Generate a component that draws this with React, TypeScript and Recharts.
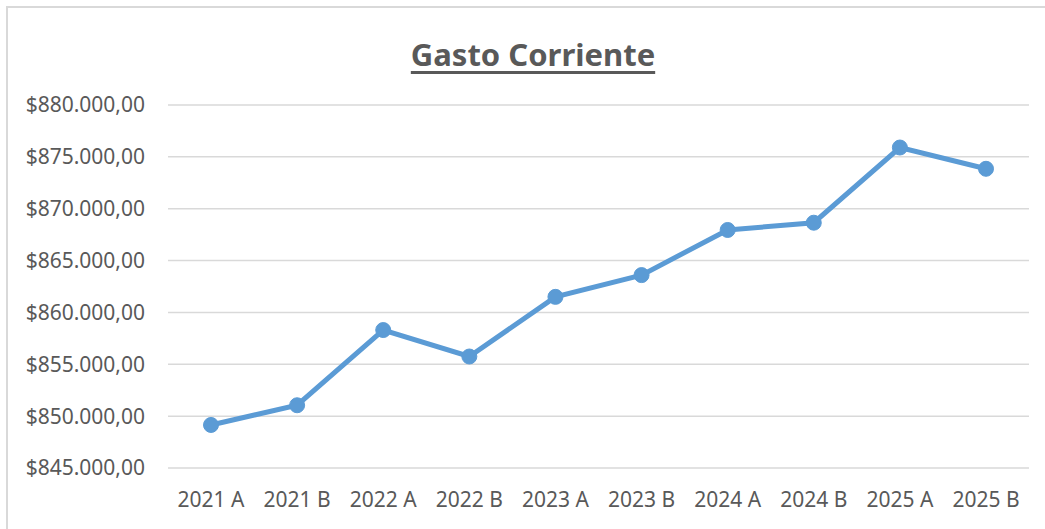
import { CartesianGrid, Line, LineChart, XAxis, YAxis } from 'recharts';

const periods = ['2021 A', '2021 B', '2022 A', '2022 B', '2023 A', '2023 B', '2024 A', '2024 B', '2025 A', '2025 B'];
const gastoCorriente = [849150, 851050, 858300, 855750, 861500, 863600, 867950, 868650, 875900, 873850];
const yTicks = [845000, 850000, 855000, 860000, 865000, 870000, 875000, 880000];

const data = periods.map((period, i) => ({ period, value: gastoCorriente[i] }));

function formatMoney(value: number) {
  const whole = Math.round(value)
    .toString()
    .replace(/\B(?=(\d{3})+(?!\d))/g, '.');
  return `$${whole},00`;
}

const font = '"Noto Sans", sans-serif';

export default function App() {
  return (
    <div style={{ position: 'absolute', left: 0, top: 0, width: 1045, height: 529, background: '#fff', fontFamily: font }}>
      <div
        style={{
          position: 'absolute',
          left: 6,
          top: 6,
          right: 0,
          bottom: 0,
          borderLeft: '2px solid #d9d9d9',
          borderTop: '2px solid #d9d9d9',
        }}
      />
      <div
        style={{
          position: 'absolute',
          left: 0,
          width: 1066,
          top: 33,
          textAlign: 'center',
          fontSize: 31,
          fontWeight: 700,
          color: '#595959',
          textDecoration: 'underline',
          textDecorationThickness: 3,
          textUnderlineOffset: 5,
        }}
      >
        Gasto Corriente
      </div>
      <div style={{ position: 'absolute', left: 0, top: 0 }}>
        <LineChart width={1045} height={529} data={data} margin={{ top: 105, right: 16, bottom: 31, left: 0 }}>
          <CartesianGrid vertical={false} stroke="#d9d9d9" strokeWidth={1.5} />
          <XAxis
            dataKey="period"
            axisLine={false}
            tickLine={false}
            tickSize={0}
            tickMargin={24}
            height={30}
            padding={{ left: 43, right: 43 }}
            tick={{ fill: '#595959', fontSize: 21, fontFamily: font }}
            interval={0}
          />
          <YAxis
            domain={[845000, 880000]}
            ticks={yTicks}
            width={168}
            axisLine={false}
            tickLine={false}
            tickSize={0}
            tickMargin={23}
            tickFormatter={formatMoney}
            tick={{ fill: '#595959', fontSize: 21, fontFamily: font }}
          />
          <Line
            type="linear"
            dataKey="value"
            stroke="#5b9bd5"
            strokeWidth={5}
            dot={{ r: 7.5, fill: '#5b9bd5', stroke: '#5b9bd5', strokeWidth: 1 }}
            activeDot={false}
            isAnimationActive={false}
          />
        </LineChart>
      </div>
    </div>
  );
}
